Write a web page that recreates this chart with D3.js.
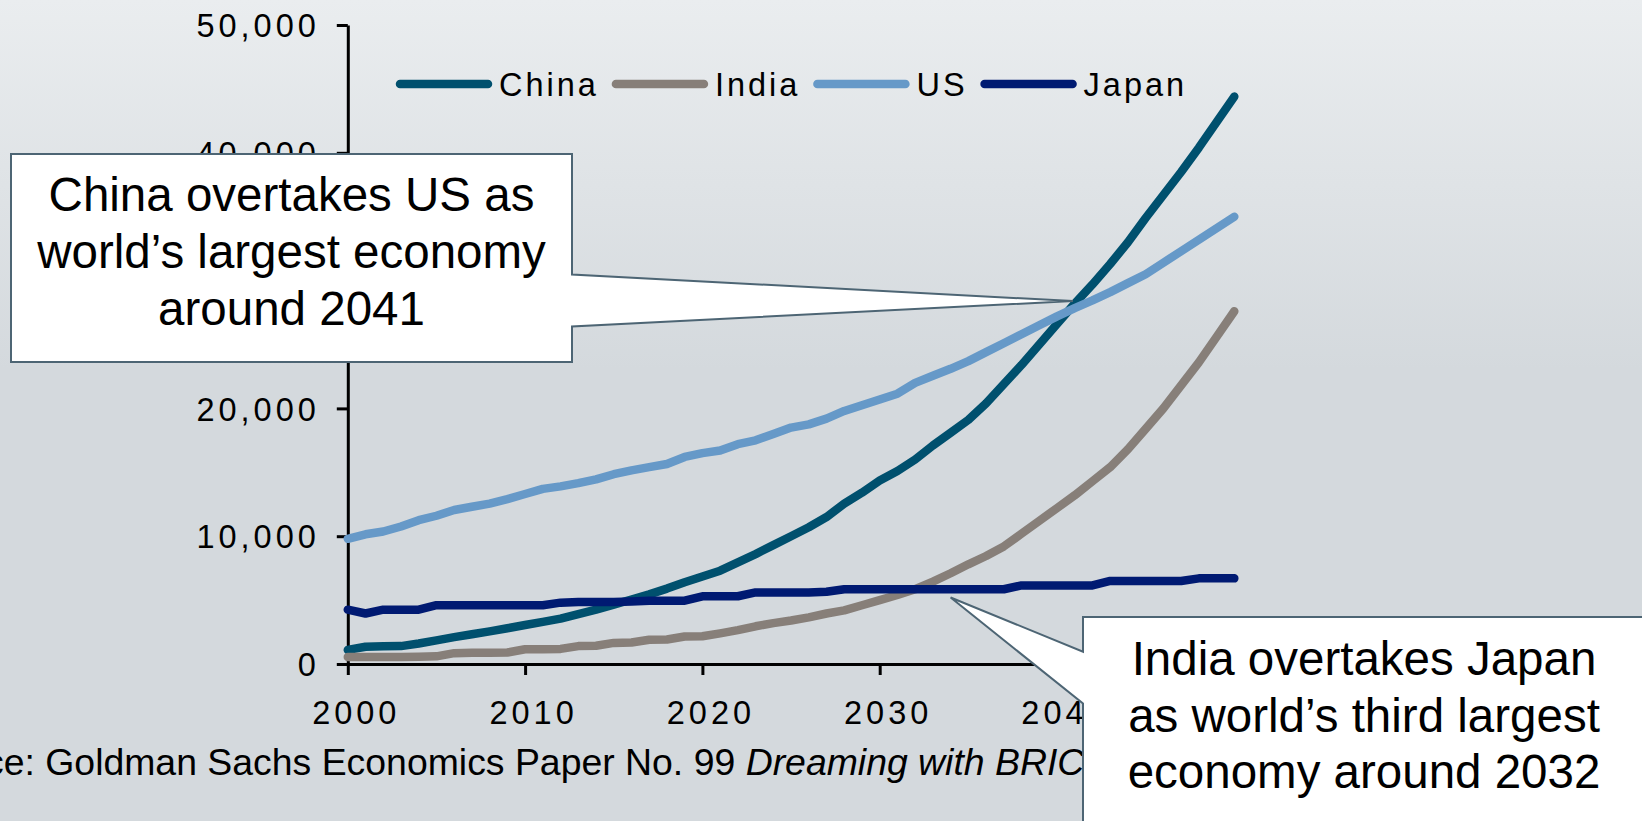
<!DOCTYPE html>
<html>
<head>
<meta charset="utf-8">
<script src="https://cdn.jsdelivr.net/npm/d3@7/dist/d3.min.js"></script>
<style>
  html, body { margin: 0; padding: 0; background: #d4d9dd; overflow: hidden; }
  svg { display: block; font-family: "Liberation Sans", Arial, sans-serif; }
</style>
</head>
<body>
<svg id="chart" width="1642" height="821"></svg>
<script>
// GDP projections, US$ bn (2003 dollars)
const years = [2000,2001,2002,2003,2004,2005,2006,2007,2008,2009,
               2010,2011,2012,2013,2014,2015,2016,2017,2018,2019,
               2020,2021,2022,2023,2024,2025,2026,2027,2028,2029,
               2030,2031,2032,2033,2034,2035,2036,2037,2038,2039,
               2040,2041,2042,2043,2044,2045,2046,2047,2048,2049,2050];

const china = [1100,1350,1380,1400,1600,1850,2100,2330,2550,2800,
               3050,3300,3550,3900,4250,4650,5050,5450,5900,6400,
               6850,7300,7950,8600,9300,10000,10700,11500,12550,13400,
               14350,15100,16000,17100,18100,19100,20400,21900,23400,25000,
               26600,28200,29700,31300,33000,34900,36700,38500,40400,42400,44400];

const india = [550,550,550,550,560,600,850,880,880,900,
               1150,1160,1180,1400,1430,1650,1680,1900,1920,2150,
               2170,2400,2650,2950,3200,3400,3650,3950,4200,4600,
               5000,5400,5850,6450,7100,7800,8450,9200,10200,11200,
               12200,13200,14300,15400,16800,18400,20000,21800,23600,25600,27600];

const us = [9800,10150,10370,10760,11250,11600,12050,12300,12550,12900,
            13300,13700,13900,14150,14450,14850,15150,15400,15650,16200,
            16500,16700,17200,17500,18000,18500,18750,19200,19800,20250,
            20700,21150,22000,22550,23100,23700,24400,25100,25800,26500,
            27200,27850,28450,29100,29800,30500,31400,32300,33200,34100,35000];

const japan = [4250,3950,4250,4250,4250,4600,4600,4600,4600,4600,
               4600,4600,4800,4850,4850,4850,4900,4950,4950,4950,
               5300,5300,5300,5600,5600,5600,5600,5650,5850,5850,
               5850,5850,5850,5850,5850,5850,5850,5850,6150,6150,
               6150,6150,6150,6500,6500,6500,6500,6500,6700,6700,6700];

const seriesNames  = ["China", "India", "US", "Japan"];
const seriesValues = [china, india, us, japan];
const seriesColors = ["#00506e", "#877f79", "#6699c8", "#001a72"];

const xTickValues = [2000, 2010, 2020, 2030, 2040, 2050];
const yTickValues = [0, 10000, 20000, 30000, 40000, 50000];

const sourcePlain  = "Source: Goldman Sachs Economics Paper No. 99 ";
const sourceItalic = "Dreaming with BRICs: The Path to 2050";

const callouts = [
  { lines: ["China overtakes US as", "world\u2019s largest economy", "around 2041"],
    year: 2040.9, value: 28400 },
  { lines: ["India overtakes Japan", "as world\u2019s third largest", "economy around 2032"],
    year: 2034, value: 5200 }
];

const svg = d3.select("#chart");
const W = 1642, H = 821;

// background wash
const defs = svg.append("defs");
const grad = defs.append("linearGradient").attr("id", "bg")
  .attr("x1", 0).attr("y1", 0).attr("x2", 0).attr("y2", 1);
grad.append("stop").attr("offset", "0").attr("stop-color", "#eaedef");
grad.append("stop").attr("offset", "0.45").attr("stop-color", "#d4d9dd");
grad.append("stop").attr("offset", "1").attr("stop-color", "#d4d9dd");
svg.append("rect").attr("width", W).attr("height", H).attr("fill", "url(#bg)");

const x = d3.scaleLinear().domain([2000, 2050]).range([347.8, 1234.3]);
const y = d3.scaleLinear().domain([0, 50000]).range([664, 25]);

const axisFont = 32.5;

// y axis
const yAxis = svg.append("g").attr("transform", `translate(${x(2000)},0)`)
  .call(d3.axisLeft(y).tickValues(yTickValues).tickFormat(d3.format(","))
        .tickSize(11).tickSizeOuter(0).tickPadding(17));
// x axis
const xAxis = svg.append("g").attr("transform", `translate(0,${y(0)})`)
  .call(d3.axisBottom(x).tickValues(xTickValues).tickFormat(d3.format("d"))
        .tickSize(11).tickSizeOuter(0).tickPadding(26));

[yAxis, xAxis].forEach(g => {
  g.select(".domain").attr("stroke", "#000").attr("stroke-width", 3);
  g.selectAll(".tick line").attr("stroke", "#000").attr("stroke-width", 3);
  g.selectAll(".tick text").attr("fill", "#000")
    .style("font-family", "'Liberation Sans', Arial, sans-serif")
    .style("font-size", axisFont + "px")
    .style("letter-spacing", "4px");
});
yAxis.selectAll(".tick text").attr("dy", "0.36em");
xAxis.selectAll(".tick text").attr("dy", "0.71em").attr("dx", 8);

// series lines
const line = d3.line().x((d, i) => x(years[i])).y(d => y(d));
const lineLayer = svg.append("g");
seriesValues.forEach((vals, k) => {
  lineLayer.append("path").datum(vals)
    .attr("d", line)
    .attr("fill", "none")
    .attr("stroke", seriesColors[k])
    .attr("stroke-width", 8.5)
    .attr("stroke-linejoin", "round")
    .attr("stroke-linecap", "round");
});

// legend
const legend = svg.append("g");
let lx = 400;
const ly = 84;
seriesNames.forEach((name, k) => {
  legend.append("line")
    .attr("x1", lx).attr("x2", lx + 88).attr("y1", ly).attr("y2", ly)
    .attr("stroke", seriesColors[k]).attr("stroke-width", 8.5)
    .attr("stroke-linecap", "round");
  const t = legend.append("text")
    .attr("x", lx + 99).attr("y", ly + 11.5)
    .style("font-size", axisFont + "px")
    .style("letter-spacing", "3px")
    .attr("fill", "#000").text(name);
  lx = lx + 99 + t.node().getComputedTextLength() + 17;
});

// source note
const src = svg.append("text").attr("x", -94).attr("y", 775)
  .style("font-size", "37.4px").attr("fill", "#000");
src.append("tspan").text(sourcePlain);
src.append("tspan").style("font-style", "italic").text(sourceItalic);

// callout boxes
const boxes = [
  { x0: 11, y0: 154, x1: 572, y1: 362, side: "right", a: 274.5, b: 326.4,
    cx: 291.5, baselines: [211, 268, 325] },
  { x0: 1083, y0: 617, x1: 1665, y1: 845, side: "left", a: 651.7, b: 703.5,
    cx: 1364, baselines: [675, 731.5, 788] }
];
callouts.forEach((c, i) => {
  const b = boxes[i];
  const tx = x(c.year), ty = y(c.value);
  let p;
  if (b.side === "right") {
    p = `M${b.x0},${b.y0}H${b.x1}V${b.a}L${tx},${ty}L${b.x1},${b.b}V${b.y1}H${b.x0}Z`;
  } else {
    p = `M${b.x0},${b.y0}H${b.x1}V${b.y1}H${b.x0}V${b.b}L${tx},${ty}L${b.x0},${b.a}Z`;
  }
  svg.append("path").attr("d", p)
    .attr("fill", "#fff").attr("stroke", "#4d6574").attr("stroke-width", 2)
    .attr("stroke-linejoin", "miter");
  c.lines.forEach((ln, j) => {
    svg.append("text").attr("x", b.cx).attr("y", b.baselines[j])
      .attr("text-anchor", "middle")
      .style("font-size", "47.5px").attr("fill", "#000").text(ln);
  });
});
</script>
</body>
</html>
